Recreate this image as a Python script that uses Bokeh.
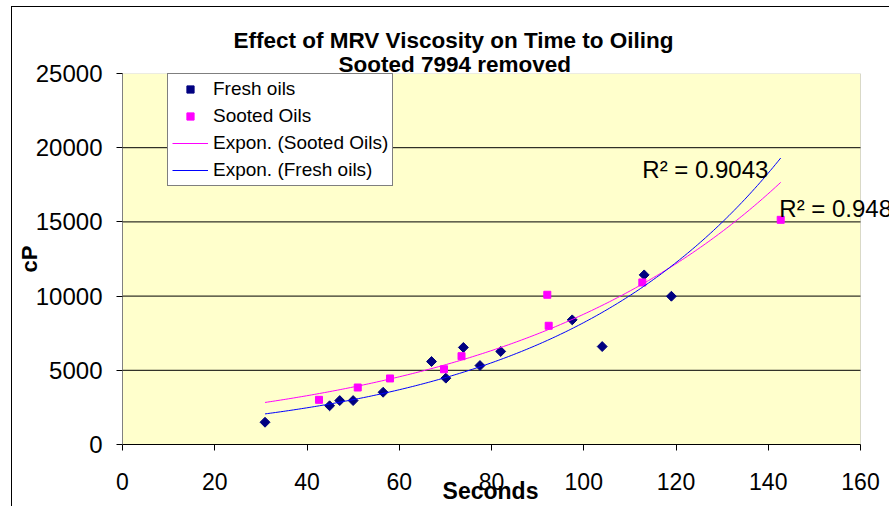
import numpy as np
from bokeh.plotting import figure
from bokeh.models import BoxAnnotation, FixedTicker, Label, Legend, LegendItem, Title
from bokeh.embed import file_html
from bokeh.resources import INLINE

# ---- data ----
fresh_seconds = [30.9, 44.9, 47.1, 50.0, 56.5, 67.0, 70.1, 73.9, 77.5, 82.0, 97.5, 104.0, 113.1, 119.0]
fresh_cp = [1500, 2610, 2960, 2960, 3520, 5590, 4470, 6540, 5320, 6270, 8400, 6600, 11430, 9990]

sooted_seconds = [42.6, 51.0, 58.0, 69.7, 73.5, 92.1, 92.4, 112.7, 142.7]
sooted_cp = [3010, 3840, 4450, 5070, 5950, 10090, 8000, 10920, 15140]

series_labels = ["Fresh oils", "Sooted Oils", "Expon. (Sooted Oils)", "Expon. (Fresh oils)"]
r2_fresh_text = "R\u00b2 = 0.9043"
r2_sooted_text = "R\u00b2 = 0.948"

x_ticks = [0, 20, 40, 60, 80, 100, 120, 140, 160]
y_ticks = [0, 5000, 10000, 15000, 20000, 25000]

title_line1 = "Effect of MRV Viscosity on Time to Oiling"
title_line2 = "Sooted 7994 removed"
x_label = "Seconds"
y_label = "cP"

FONT = "Liberation Sans"

# ---- exponential trendlines (least squares on ln y, as Excel does) ----
all_x = fresh_seconds + sooted_seconds
trend_x = np.linspace(min(all_x), max(all_x), 200)


def expon_fit(xs, ys):
    slope, intercept = np.polyfit(np.asarray(xs, float), np.log(np.asarray(ys, float)), 1)
    return np.exp(intercept + slope * trend_x)


fresh_trend = expon_fit(fresh_seconds, fresh_cp)
sooted_trend = expon_fit(sooted_seconds, sooted_cp)

# The drawing frame runs on to the right edge of the canvas so that the R² text
# can run past the plot area, as in the reference; the plot area itself spans 0..160.
FRAME_LEFT, FRAME_W, AREA_W = 110, 768, 738
x_view_end = x_ticks[-1] * FRAME_W / AREA_W

# ---- figure ----
p = figure(
    width=878, height=500,
    x_range=(x_ticks[0], x_view_end), y_range=(y_ticks[0], y_ticks[-1]),
    output_backend="svg", toolbar_location=None, title=None,
    min_border_left=FRAME_LEFT, min_border_right=0, min_border_top=66, min_border_bottom=63,
    background_fill_color="white", border_fill_color="white",
    outline_line_color=None,
)
# chart-area border (left and top edges visible in the reference)
p.styles = {"margin-left": "11px", "margin-top": "6px",
            "border-left": "1px solid #000000", "border-top": "1px solid #000000"}

# plot area (light yellow, grey border)
p.add_layout(BoxAnnotation(left=x_ticks[0], right=x_ticks[-1], bottom=y_ticks[0], top=y_ticks[-1],
                           fill_color="#FFFFCC", fill_alpha=1, line_color="#808080", line_width=1,
                           level="underlay"))

p.add_layout(Title(text=title_line2, align="left", offset=216, text_font=FONT,
                   text_font_size="22.5px", text_font_style="bold", text_color="black",
                   standoff=-6), "above")
p.add_layout(Title(text=title_line1, align="left", offset=111, text_font=FONT,
                   text_font_size="22.5px", text_font_style="bold", text_color="black",
                   standoff=-1), "above")

p.xgrid.visible = False
p.ygrid.visible = False
# horizontal gridlines across the plot area only
p.segment(x0=x_ticks[0], x1=x_ticks[-1], y0=y_ticks[1:-1], y1=y_ticks[1:-1],
          line_color="black", line_width=1)

p.xaxis.ticker = FixedTicker(ticks=x_ticks)
p.yaxis.ticker = FixedTicker(ticks=y_ticks)
p.xaxis.bounds = (x_ticks[0], x_ticks[-1])
for ax in (p.xaxis[0], p.yaxis[0]):
    ax.major_tick_out = 6
    ax.major_tick_in = 0
    ax.minor_tick_out = 0
    ax.minor_tick_in = 0
    ax.major_tick_line_color = "black"
    ax.major_label_text_font = FONT
    ax.major_label_text_color = "black"
p.xaxis.major_label_text_font_size = "23px"
p.yaxis.major_label_text_font_size = "24px"
p.xaxis.major_label_standoff = 22
p.yaxis.major_label_standoff = 14
p.xaxis.axis_line_color = "black"
p.yaxis.axis_line_color = "#808080"

p.yaxis.axis_label = y_label
p.yaxis.axis_label_text_font = FONT
p.yaxis.axis_label_text_font_size = "22px"
p.yaxis.axis_label_text_font_style = "bold"
p.yaxis.axis_label_text_color = "black"
p.yaxis.axis_label_standoff = -9

# the axis label is centred on the whole frame; trailing no-break spaces re-centre
# the visible word under the plot area (0..160)
p.xaxis.axis_label = x_label + "\u00a0" * 5
p.xaxis.axis_label_text_font = FONT
p.xaxis.axis_label_text_font_size = "23px"
p.xaxis.axis_label_text_font_style = "bold"
p.xaxis.axis_label_text_color = "black"
p.xaxis.axis_label_standoff = -15

# ---- marks ----
r_fresh = p.scatter(fresh_seconds, fresh_cp, marker="square", angle=45, angle_units="deg", size=7,
                    fill_color="#000080", line_color="#000080")
r_sooted = p.scatter(sooted_seconds, sooted_cp, marker="square", size=7,
                     fill_color="#FF00FF", line_color="#FF00FF")
r_sooted_trend = p.line(trend_x, sooted_trend, line_color="#FF00FF", line_width=1)
r_fresh_trend = p.line(trend_x, fresh_trend, line_color="#0000FF", line_width=1)

# ---- trendline R² annotations ----
p.add_layout(Label(x=112.7, y=18510, text=r2_fresh_text, text_align="left", text_baseline="alphabetic",
                   text_font=FONT, text_font_size="24px", text_color="black"))
p.add_layout(Label(x=142.4, y=15880, text=r2_sooted_text, text_align="left", text_baseline="alphabetic",
                   text_font=FONT, text_font_size="24px", text_color="black"))

legend = Legend(
    items=[
        LegendItem(label=series_labels[0], renderers=[r_fresh]),
        LegendItem(label=series_labels[1], renderers=[r_sooted]),
        LegendItem(label=series_labels[2], renderers=[r_sooted_trend]),
        LegendItem(label=series_labels[3], renderers=[r_fresh_trend]),
    ],
    location=(45, 258),
    border_line_color="black", border_line_width=1,
    background_fill_color="white", background_fill_alpha=1,
    label_text_font=FONT, label_text_font_size="19px", label_text_color="black",
    glyph_width=36, glyph_height=18, label_height=22, label_standoff=5,
    spacing=5, padding=4, margin=0,
)
p.add_layout(legend)

open("out.html", "w").write(file_html(p, INLINE))
